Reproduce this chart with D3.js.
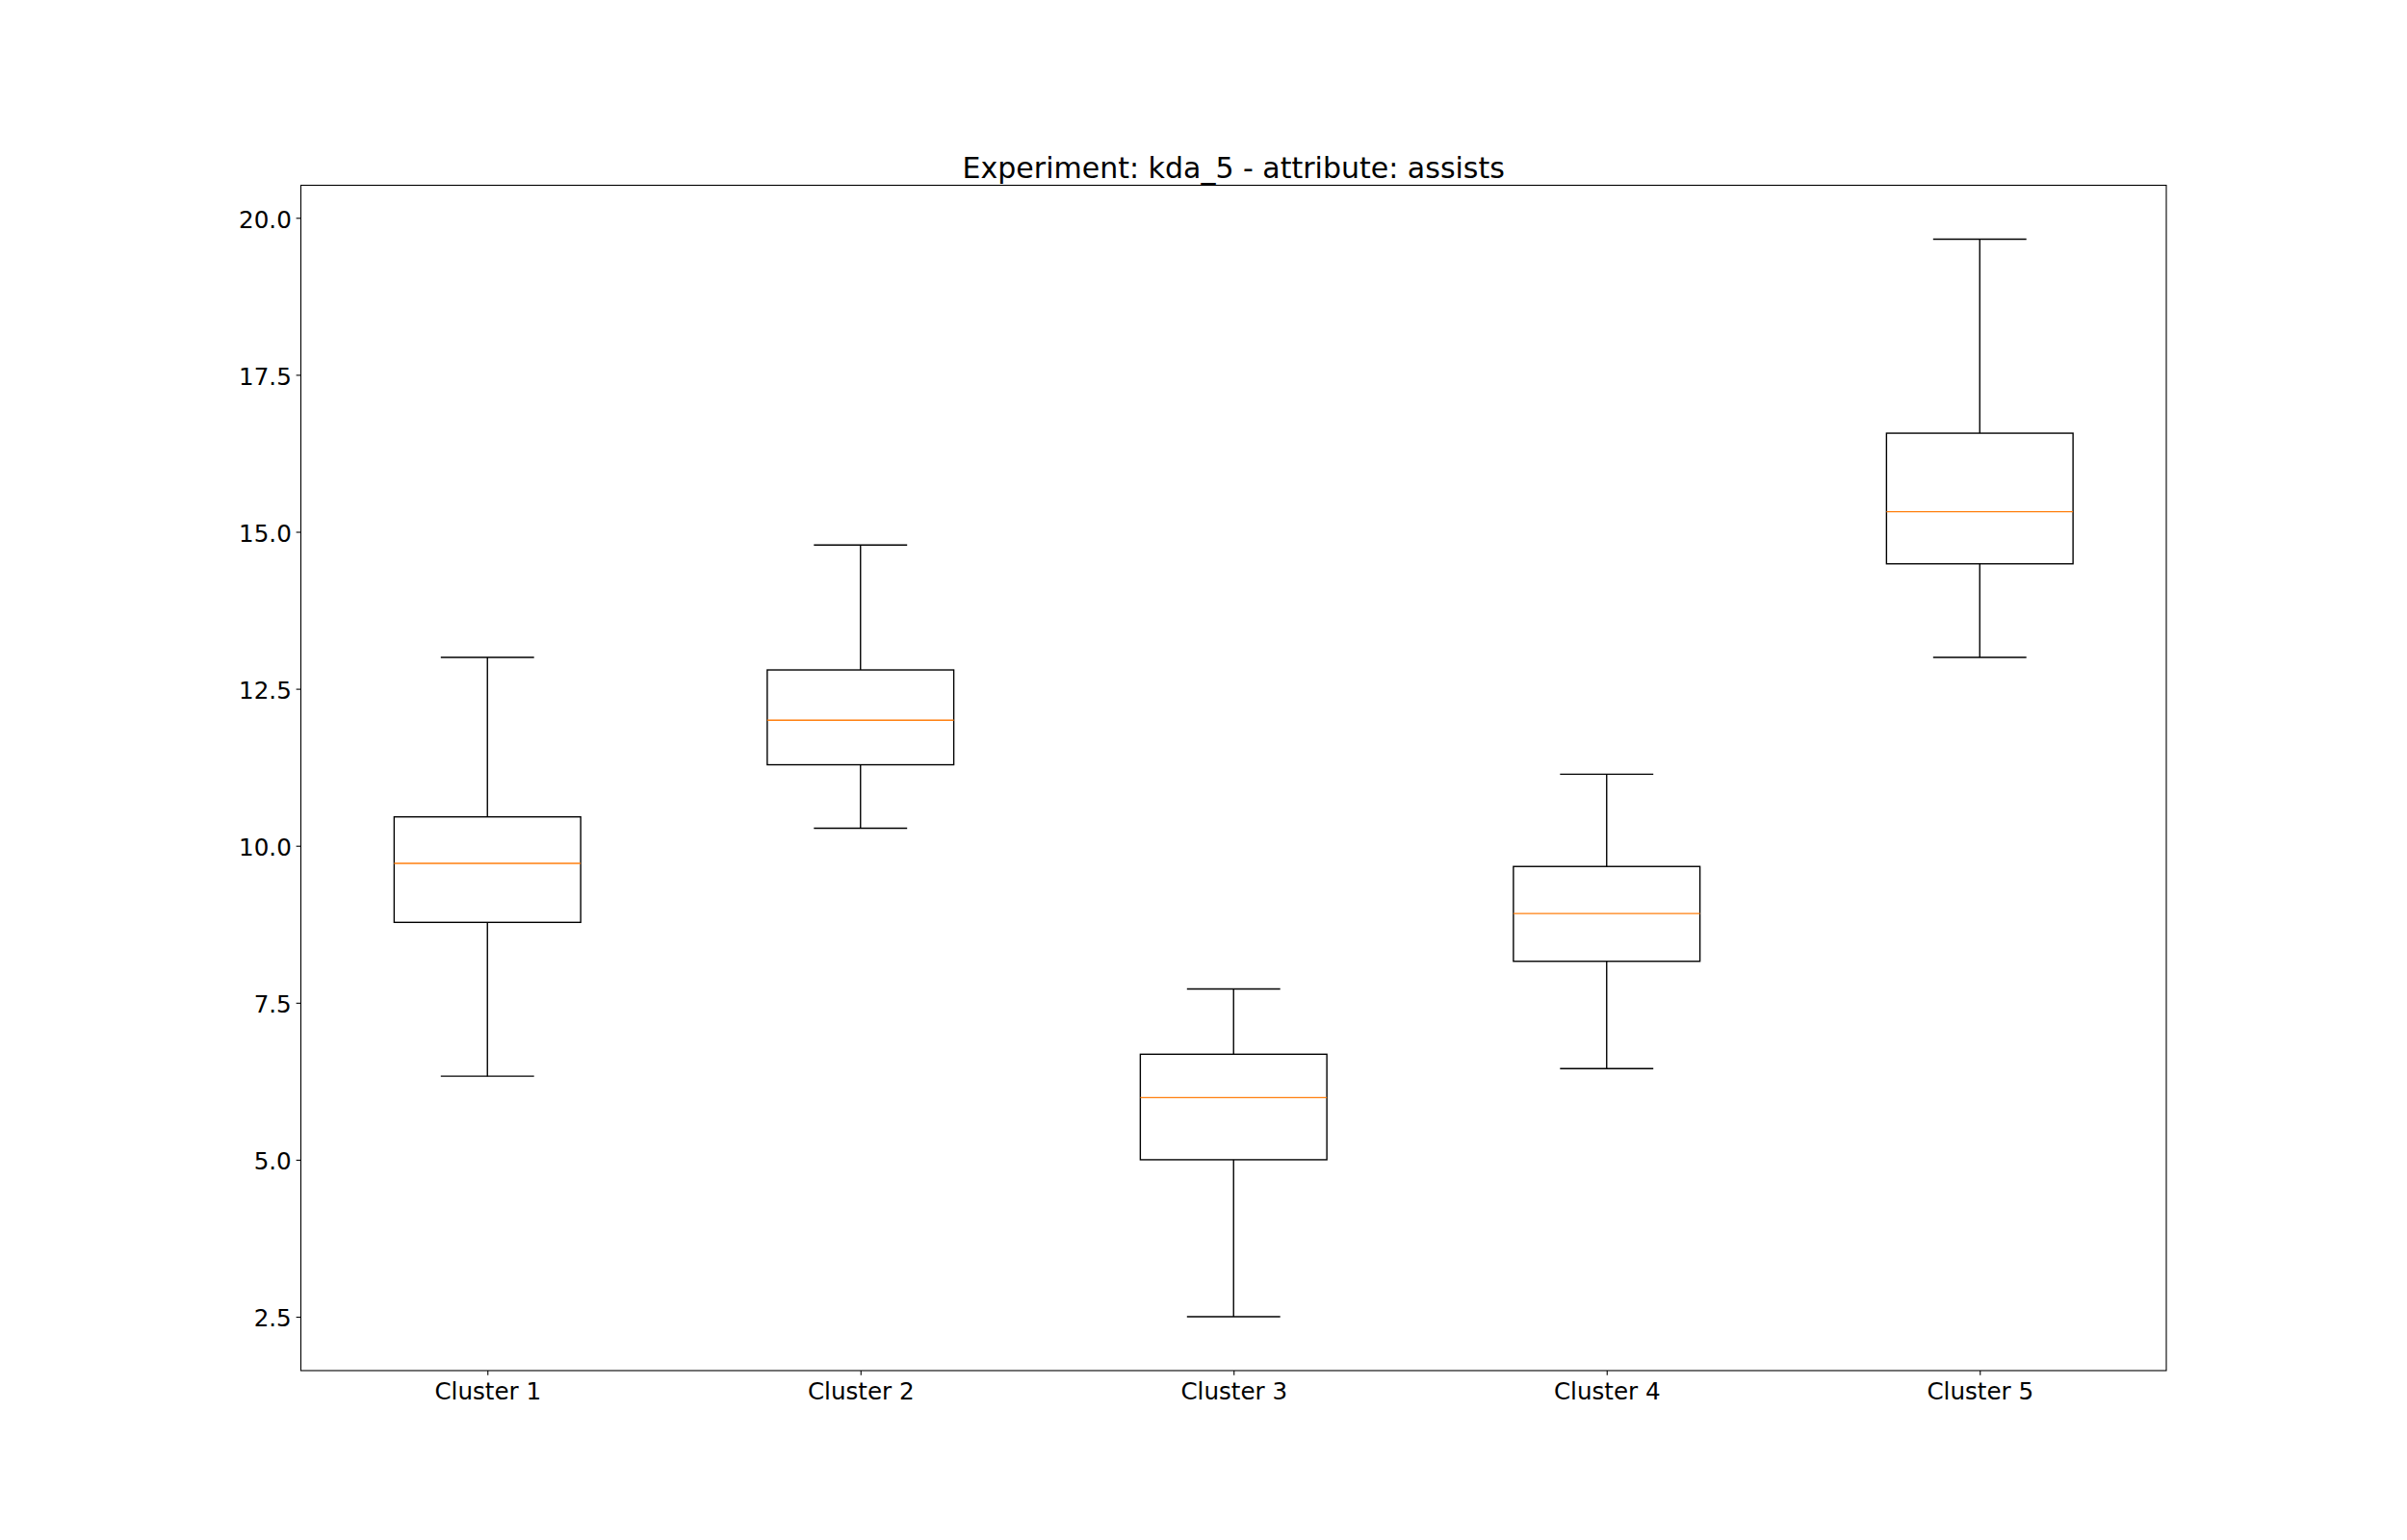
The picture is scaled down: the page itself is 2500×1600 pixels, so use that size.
<!DOCTYPE html>
<html>
<head>
<meta charset="utf-8">
<script src="https://cdn.jsdelivr.net/npm/d3@7"></script>
<style>
  html, body { margin: 0; padding: 0; background: #fff; }
  svg { display: block; }
  text { font-family: "DejaVu Sans", sans-serif; fill: #000; }
</style>
</head>
<body>
<svg id="chart" width="2500" height="1600"></svg>
<script>
const categories = ["Cluster 1", "Cluster 2", "Cluster 3", "Cluster 4", "Cluster 5"];
const whiskerLow  = [6.33, 10.28, 2.50, 6.45, 13.00];
const q1          = [8.78, 11.29, 5.00, 8.16, 14.49];
const medians     = [9.72, 12.00, 5.99, 8.92, 15.32];
const q3          = [10.46, 12.80, 6.68, 9.67, 16.57];
const whiskerHigh = [13.00, 14.79, 7.72, 11.14, 19.66];
const yTicks = [2.5, 5.0, 7.5, 10.0, 12.5, 15.0, 17.5, 20.0];
const titleText = "Experiment: kda_5 - attribute: assists";

const plotLeft = 312.5, plotRight = 2250, plotTop = 192.5, plotBottom = 1424;

const data = categories.map((c, i) => ({
  cat: c, pos: i + 1,
  lo: whiskerLow[i], q1: q1[i], med: medians[i], q3: q3[i], hi: whiskerHigh[i]
}));

const svg = d3.select("#chart");

const x = d3.scaleLinear().domain([0.5, categories.length + 0.5]).range([plotLeft, plotRight]);
const dmin = d3.min(whiskerLow), dmax = d3.max(whiskerHigh);
const m = (dmax - dmin) * 0.05;
const y = d3.scaleLinear().domain([dmin - m, dmax + m]).range([plotBottom, plotTop]);

const boxW = 0.5, capW = 0.25;
const lw = 1.39;

const g = svg.append("g");

// whiskers
g.selectAll(".wlow").data(data).enter().append("line")
  .attr("x1", d => x(d.pos)).attr("x2", d => x(d.pos))
  .attr("y1", d => y(d.q1)).attr("y2", d => y(d.lo))
  .attr("stroke", "#000").attr("stroke-width", lw);
g.selectAll(".whigh").data(data).enter().append("line")
  .attr("x1", d => x(d.pos)).attr("x2", d => x(d.pos))
  .attr("y1", d => y(d.q3)).attr("y2", d => y(d.hi))
  .attr("stroke", "#000").attr("stroke-width", lw);
// caps
g.selectAll(".caplow").data(data).enter().append("line")
  .attr("x1", d => x(d.pos - capW / 2)).attr("x2", d => x(d.pos + capW / 2))
  .attr("y1", d => y(d.lo)).attr("y2", d => y(d.lo))
  .attr("stroke", "#000").attr("stroke-width", lw);
g.selectAll(".caphigh").data(data).enter().append("line")
  .attr("x1", d => x(d.pos - capW / 2)).attr("x2", d => x(d.pos + capW / 2))
  .attr("y1", d => y(d.hi)).attr("y2", d => y(d.hi))
  .attr("stroke", "#000").attr("stroke-width", lw);
// boxes
g.selectAll(".box").data(data).enter().append("rect")
  .attr("x", d => x(d.pos - boxW / 2))
  .attr("width", d => x(d.pos + boxW / 2) - x(d.pos - boxW / 2))
  .attr("y", d => y(d.q3))
  .attr("height", d => y(d.q1) - y(d.q3))
  .attr("fill", "none").attr("stroke", "#000").attr("stroke-width", lw);
// medians
g.selectAll(".med").data(data).enter().append("line")
  .attr("x1", d => x(d.pos - boxW / 2)).attr("x2", d => x(d.pos + boxW / 2))
  .attr("y1", d => y(d.med)).attr("y2", d => y(d.med))
  .attr("stroke", "#ff7f0e").attr("stroke-width", lw);

// axes
const tickLen = 4.86;
const xAxis = d3.axisBottom(x)
  .tickValues(data.map(d => d.pos))
  .tickFormat((d, i) => categories[i])
  .tickSize(tickLen);
const gx = svg.append("g").attr("transform", `translate(0,${plotBottom})`).call(xAxis);
gx.select(".domain").remove();
gx.selectAll(".tick line").attr("stroke", "#000").attr("stroke-width", 1.1);
gx.selectAll(".tick text")
  .attr("y", 29.5).attr("dy", 0)
  .style("font-family", "'DejaVu Sans', sans-serif")
  .style("font-size", "24.6px").attr("fill", "#000");

const yAxis = d3.axisLeft(y)
  .tickValues(yTicks)
  .tickFormat(d3.format(".1f"))
  .tickSize(tickLen)
  .tickPadding(4.86);
const gy = svg.append("g").attr("transform", `translate(${plotLeft},0)`).call(yAxis);
gy.select(".domain").remove();
gy.selectAll(".tick line").attr("stroke", "#000").attr("stroke-width", 1.1);
gy.selectAll(".tick text")
  .attr("dy", "0.4em")
  .style("font-family", "'DejaVu Sans', sans-serif")
  .style("font-size", "24.6px").attr("fill", "#000");

// frame
svg.append("rect")
  .attr("x", plotLeft).attr("y", plotTop)
  .attr("width", plotRight - plotLeft).attr("height", plotBottom - plotTop)
  .attr("fill", "none").attr("stroke", "#000").attr("stroke-width", 1.1);

// title
svg.append("text")
  .attr("x", (plotLeft + plotRight) / 2).attr("y", 184.5)
  .attr("text-anchor", "middle")
  .style("font-size", "30px")
  .text(titleText);
</script>
</body>
</html>
